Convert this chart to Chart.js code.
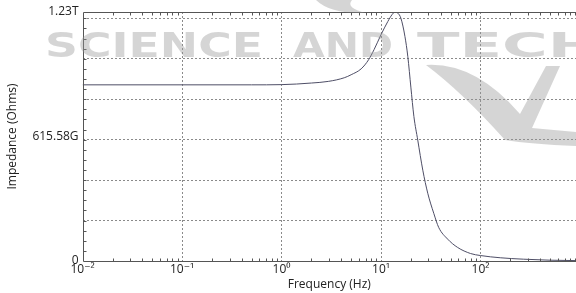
<!DOCTYPE html>
<html>
<head>
<meta charset="utf-8">
<script src="https://cdn.jsdelivr.net/npm/chart.js@4"></script>
<style>
    html, body { margin: 0; padding: 0; background: #ffffff; }
    #wrap { width: 576px; height: 293px; position: relative; }
</style>
</head>
<body>
<div id="wrap"><canvas id="impedanceChart"></canvas></div>
<script>
// frequency (Hz) and impedance (Ohms)
var freqs = [0.01, 0.1, 0.5, 1, 2.0, 2.95, 4.27, 5.01, 6.31, 7.5, 8.51, 10, 11.7, 12.9, 13.8, 14.8, 15.85, 17.4, 18.6, 19.95,
             21.4, 23.4, 26.3, 29.5, 33.9, 38.0, 46.8, 58.9, 79.4, 100, 158, 269, 500, 912];
var impedance = [0.871e12, 0.871e12, 0.871e12, 0.872e12, 0.880e12, 0.888e12, 0.906e12, 0.921e12, 0.950e12, 0.995e12,
                 1.045e12, 1.119e12, 1.184e12, 1.218e12, 1.231e12, 1.225e12, 1.200e12, 1.110e12, 1.010e12, 0.860e12,
                 0.715e12, 0.598e12, 0.449e12, 0.335e12, 0.236e12, 0.166e12, 0.108e12, 0.067e12, 0.037e12, 0.027e12,
                 0.016e12, 0.009e12, 0.004e12, 0.002e12];

var xTickValues = [0.01, 0.1, 1, 10, 100];
var xTickLabels = ["10\u207B\u00B2", "10\u207B\u00B9", "10\u2070", "10\u00B9", "10\u00B2"];
var xMax = 912;

var yTickValues = [0, 615.58e9, 1.23116e12];
var yTickLabels = ["0", "615.58G", "1.23T"];
var yGridValues = [0.2e12, 0.4e12, 0.6e12, 0.8e12, 1.0e12, 1.2e12];
var yMinorStep = 0.05e12;

var fontFamily = "'Open Sans', 'DejaVu Sans', sans-serif";

// light watermark laid over the figure
var watermarkPlugin = {
    id: "watermark",
    afterDraw: function(chart) {
        var ctx = chart.ctx;
        ctx.save();
        ctx.fillStyle = "rgba(150, 150, 150, 0.4)";
        ctx.font = "bold 34px 'DejaVu Sans', sans-serif";
        ctx.textBaseline = "alphabetic";
        var words = [["SCIENCE", 45, 263], ["AND", 293, 393], ["TECH", 417, 600]];
        words.forEach(function(w) {
            var width = ctx.measureText(w[0]).width;
            ctx.save();
            ctx.translate(w[1], 57);
            ctx.scale((w[2] - w[1]) / width, 0.98);
            ctx.fillText(w[0], 0, 0);
            ctx.restore();
        });
        // swoosh
        ctx.beginPath();
        ctx.moveTo(426, 65);
        ctx.quadraticCurveTo(475, 62, 520, 114);
        ctx.lineTo(546, 66);
        ctx.lineTo(560, 66);
        ctx.lineTo(532, 128);
        ctx.lineTo(576, 132);
        ctx.lineTo(576, 146);
        ctx.quadraticCurveTo(530, 144, 505, 140);
        ctx.quadraticCurveTo(462, 92, 426, 65);
        ctx.fill();
        ctx.beginPath();
        ctx.moveTo(316, 0);
        ctx.lineTo(352, 0);
        ctx.quadraticCurveTo(345, 8, 366, 13);
        ctx.quadraticCurveTo(330, 14, 316, 0);
        ctx.fill();
        ctx.restore();
    }
};

// axis frame with small inside ticks
var framePlugin = {
    id: "frame",
    afterDatasetsDraw: function(chart) {
        var ctx = chart.ctx;
        var a = chart.chartArea;
        var xs = chart.scales.x;
        var ys = chart.scales.y;
        ctx.save();
        ctx.strokeStyle = "#555555";
        ctx.lineWidth = 1;
        ctx.beginPath();
        var l = Math.round(a.left) + 0.5, b = Math.round(a.bottom) + 0.5, t = Math.round(a.top) + 0.5;
        ctx.moveTo(l, t);
        ctx.lineTo(l, b);
        ctx.lineTo(a.right, b);
        ctx.moveTo(l, t);
        ctx.lineTo(a.right, t);
        xTickValues.forEach(function(d) {
            for (var k = 2; k <= 9; k++) {
                var v = d * k;
                if (v > xMax) break;
                var px = Math.round(xs.getPixelForValue(v)) + 0.5;
                ctx.moveTo(px, b);
                ctx.lineTo(px, b - 3);
                ctx.moveTo(px, t);
                ctx.lineTo(px, t + 3);
            }
        });
        for (var v = yMinorStep; v < ys.max; v += yMinorStep) {
            var py = Math.round(ys.getPixelForValue(v)) + 0.5;
            ctx.moveTo(l, py);
            ctx.lineTo(l + 3, py);
        }
        ctx.stroke();
        ctx.restore();
    }
};

document.addEventListener("DOMContentLoaded", function() {
    var ctx = document.getElementById("impedanceChart").getContext("2d");
    new Chart(ctx, {
        type: "line",
        data: {
            datasets: [{
                data: freqs.map(function(f, i) { return { x: f, y: impedance[i] }; }),
                borderColor: "#4e4e66",
                borderWidth: 1,
                pointRadius: 0,
                cubicInterpolationMode: "monotone",
                fill: false
            }]
        },
        options: {
            responsive: true,
            maintainAspectRatio: false,
            animation: false,
            layout: { padding: { top: 12, right: 0, bottom: 0, left: 5 } },
            plugins: {
                legend: { display: false },
                tooltip: { enabled: false }
            },
            scales: {
                x: {
                    type: "logarithmic",
                    min: 0.01,
                    max: xMax,
                    afterBuildTicks: function(axis) {
                        axis.ticks = xTickValues.map(function(v) { return { value: v }; });
                    },
                    grid: {
                        drawTicks: false,
                        color: function(c) { return c.tick && c.tick.value === 0.01 ? "transparent" : "#8a8a8a"; }
                    },
                    border: { display: false, dash: [2, 2] },
                    ticks: {
                        autoSkip: false,
                        maxRotation: 0,
                        minRotation: 0,
                        padding: 2,
                        color: "#222222",
                        font: { family: fontFamily, size: 12, lineHeight: 1.05 },
                        callback: function(value) {
                            var i = xTickValues.indexOf(value);
                            return i >= 0 ? xTickLabels[i] : "";
                        }
                    },
                    title: {
                        display: true,
                        text: "Frequency (Hz)",
                        color: "#222222",
                        font: { family: fontFamily, size: 12 },
                        padding: { top: 0, bottom: 1 }
                    }
                },
                y: {
                    min: 0,
                    max: 1.23116e12,
                    afterBuildTicks: function(axis) {
                        var vals = yGridValues.concat(yTickValues).sort(function(p, q) { return p - q; });
                        axis.ticks = vals.map(function(v) { return { value: v }; });
                    },
                    grid: {
                        drawTicks: false,
                        color: function(c) { return c.tick && yGridValues.indexOf(c.tick.value) >= 0 ? "#8a8a8a" : "transparent"; }
                    },
                    border: { display: false, dash: [2, 2] },
                    ticks: {
                        autoSkip: false,
                        padding: 4,
                        color: "#222222",
                        font: { family: fontFamily, size: 12 },
                        callback: function(value) {
                            var i = yTickValues.indexOf(value);
                            return i >= 0 ? yTickLabels[i] : "";
                        }
                    },
                    title: {
                        display: true,
                        text: "Impedance (Ohms)",
                        color: "#222222",
                        font: { family: fontFamily, size: 12 },
                        padding: { top: 0, bottom: 9 }
                    }
                }
            }
        },
        plugins: [framePlugin, watermarkPlugin]
    });
});
</script>
</body>
</html>
